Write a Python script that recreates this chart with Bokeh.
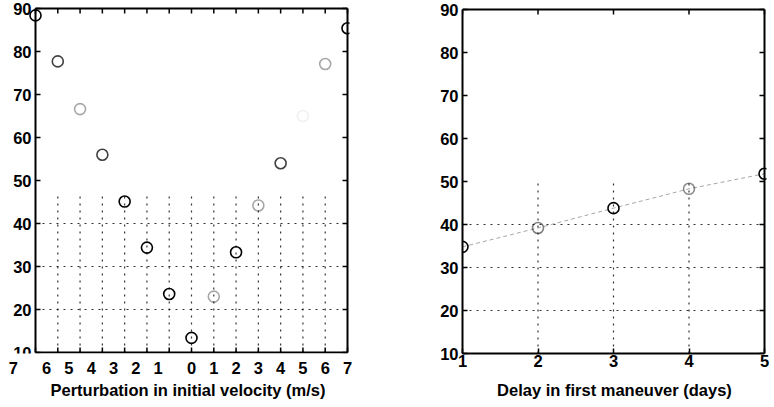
from bokeh.plotting import figure
from bokeh.models import Range1d, LinearAxis, FixedTicker, ColumnDataSource, Title
from bokeh.layouts import row
from bokeh.embed import file_html
from bokeh.resources import INLINE
from bokeh.core.properties import value

# ---------------- data ----------------
# Left panel: perturbation in initial velocity (m/s)
vel_x = [-7, -6, -5, -4, -3, -2, -1, 0, 1, 2, 3, 4, 5, 6, 7]
vel_y = [88.4, 77.7, 66.6, 56.0, 45.1, 34.4, 23.6, 13.4, 23.0, 33.3, 44.2, 54.0, 65.0, 77.1, 85.4]
vel_ticks = [-7, -6, -5, -4, -3, -2, -1, 0, 1, 2, 3, 4, 5, 6, 7]
vel_tick_labels = ["7", "6", "5", "4", "3", "2", "1", "0", "1", "2", "3", "4", "5", "6", "7"]

# Right panel: delay in first maneuver (days)
delay_x = [1, 2, 3, 4, 5]
delay_y = [34.8, 39.2, 43.8, 48.3, 51.8]
delay_ticks = [1, 2, 3, 4, 5]
delay_tick_labels = ["1", "2", "3", "4", "5"]

y_ticks = [10, 20, 30, 40, 50, 60, 70, 80, 90]
y_tick_labels = ["10", "20", "30", "40", "50", "60", "70", "80", "90"]

# ---------------- style ----------------
FONT = "Liberation Sans"
TICK_SIZE = "16.5px"
TITLE_SIZE = "16.5px"
HEIGHT = 405
BOTTOM_BORDER = 52
TICK_PX = 5
faint_left = {-5: 0.35, 1: 0.35, 3: 0.35, 5: 0.06, 6: 0.35, -6: 0.75, -4: 0.75, 4: 0.75}
faint_right = {2: 0.5, 4: 0.45}
DOT = dict(line_color="black", line_dash="2 5", line_width=1.2, line_alpha=0.8)
CIRCLE = dict(marker="circle", size=11, fill_color=None, line_color="black", line_width=1.6)
hy = [20, 30, 40]
ymin, ymax = y_ticks[0], y_ticks[-1]


def style_axis(ax):
    ax.axis_line_width = 2
    ax.axis_line_color = "black"
    ax.major_tick_in = 5
    ax.major_tick_out = 0
    ax.major_tick_line_width = 1.5
    ax.minor_tick_line_color = None
    ax.major_label_text_font = FONT
    ax.major_label_text_font_size = TICK_SIZE
    ax.major_label_text_font_style = "bold"
    ax.major_label_text_color = "black"
    ax.axis_label_text_font = FONT
    ax.axis_label_text_font_size = TITLE_SIZE
    ax.axis_label_text_font_style = "bold"
    ax.axis_label_text_color = "black"
    ax.axis_label_standoff = 8
    ax.major_label_standoff = 2


def base_figure(width, x_range, y_range, border_left, border_right):
    p = figure(width=width, height=HEIGHT, output_backend="svg", toolbar_location=None,
               title=None, x_range=x_range, y_range=y_range,
               min_border_left=border_left, min_border_right=border_right,
               min_border_top=0, min_border_bottom=BOTTOM_BORDER)
    p.xaxis.visible = False
    p.yaxis.visible = False
    p.grid.visible = False
    p.outline_line_color = None
    p.background_fill_color = "white"
    p.border_fill_color = "white"
    return p


def box_ticks(p, xticks, xmin, xmax, pxx, pxy, sides):
    """Box edges and inward ticks drawn from the tick lists."""
    tx, ty = TICK_PX / pxx, TICK_PX / pxy
    n, m = len(xticks), len(y_ticks)
    if "top" in sides:
        p.segment(x0=[xmin], y0=[ymax], x1=[xmax], y1=[ymax], line_color="black", line_width=2)
        p.segment(x0=xticks, y0=[ymax] * n, x1=xticks, y1=[ymax - ty] * n, line_color="black", line_width=1.5)
    if "right" in sides:
        p.segment(x0=[xmax], y0=[ymin], x1=[xmax], y1=[ymax], line_color="black", line_width=2)
        p.segment(x0=[xmax] * m, y0=y_ticks, x1=[xmax - tx] * m, y1=y_ticks, line_color="black", line_width=1.5)
    if "bottom" in sides:
        p.segment(x0=[xmin], y0=[ymin], x1=[xmax], y1=[ymin], line_color="black", line_width=2)
        p.segment(x0=xticks, y0=[ymin] * n, x1=xticks, y1=[ymin + ty] * n, line_color="black", line_width=1.5)
    if "left" in sides:
        p.segment(x0=[xmin], y0=[ymin], x1=[xmin], y1=[ymax], line_color="black", line_width=2)
        p.segment(x0=[xmin] * m, y0=y_ticks, x1=[xmin + tx] * m, y1=y_ticks, line_color="black", line_width=1.5)


# ======== left panel: box drawn by hand so the edge label "7" can sit left of the box ========
L_WIDTH = 420
BOX_LEFT_PX = 35          # room left of the box (y labels, outer "7")
BOX_W_PX = 312
BOX_RIGHT_PAD_PX = 2
BOX_TOP_PX = 8
NEG_LABEL_SHIFT = 0.5     # negative-side labels sit left of their ticks (lost minus signs)
EDGE_LABEL_SHIFT = 1.0

frame_h = HEIGHT - BOTTOM_BORDER
xmin, xmax = vel_ticks[0], vel_ticks[-1]
pxx = BOX_W_PX / (xmax - xmin)
pxy = (frame_h - BOX_TOP_PX - 1) / (ymax - ymin)
frame_w = BOX_LEFT_PX + BOX_W_PX + BOX_RIGHT_PAD_PX

left_p = base_figure(L_WIDTH,
                     Range1d(xmin - BOX_LEFT_PX / pxx, xmax + BOX_RIGHT_PAD_PX / pxx),
                     Range1d(ymin - 1 / pxy, ymax + BOX_TOP_PX / pxy),
                     0, L_WIDTH - frame_w)

# bottom axis carries only the tick labels, at their printed positions
vel_label_pos = [t - (EDGE_LABEL_SHIFT if t == xmin else NEG_LABEL_SHIFT) if t < 0 else t
                 for t in vel_ticks]
lb = LinearAxis(ticker=FixedTicker(ticks=vel_label_pos))
lb.major_label_overrides = {pos: lab for pos, lab in zip(vel_label_pos, vel_tick_labels)}
style_axis(lb)
lb.axis_line_color = None
lb.major_tick_line_color = None
lb.major_label_standoff = 8
left_p.add_layout(lb, "below")
left_p.add_layout(Title(text="Perturbation in initial velocity (m/s)", align="left", offset=50,
                        text_font=FONT, text_font_size=TITLE_SIZE, text_font_style="bold",
                        text_color="black", standoff=5), "below")

box_ticks(left_p, vel_ticks, xmin, xmax, pxx, pxy, ("top", "right", "bottom", "left"))
left_p.text(x=[xmin] * len(y_ticks), y=y_ticks, text=y_tick_labels, x_offset=-4,
            text_align="right", text_baseline="middle", text_font=value(FONT),
            text_font_size=value(TICK_SIZE), text_font_style="bold", text_color="black")
# dotted grid (only the lower part survived in the original)
inner_x = [t for t in vel_ticks if xmin < t < xmax]
left_p.segment(x0=inner_x, y0=[ymin] * len(inner_x), x1=inner_x, y1=[47] * len(inner_x), **DOT)
left_p.segment(x0=[xmin] * len(hy), y0=hy, x1=[xmax] * len(hy), y1=hy, **DOT)
lsrc = ColumnDataSource(dict(x=vel_x, y=vel_y, a=[faint_left.get(x, 1.0) for x in vel_x]))
left_p.scatter("x", "y", source=lsrc, line_alpha="a", **CIRCLE)


# ======== right panel ========
R_WIDTH = 354
R_BORDER_LEFT = 42
R_BORDER_RIGHT = 8
R_RIGHT_PAD_PX = 2
R_TOP_PX = 9
rxmin, rxmax = delay_ticks[0], delay_ticks[-1]
r_frame_w = R_WIDTH - R_BORDER_LEFT - R_BORDER_RIGHT
rpxx = (r_frame_w - R_RIGHT_PAD_PX) / (rxmax - rxmin)
rpxy = (frame_h - R_TOP_PX) / (ymax - ymin)

right_p = base_figure(R_WIDTH,
                      Range1d(rxmin, rxmax + R_RIGHT_PAD_PX / rpxx),
                      Range1d(ymin, ymax + R_TOP_PX / rpxy),
                      R_BORDER_LEFT, R_BORDER_RIGHT)

rb = LinearAxis(ticker=FixedTicker(ticks=delay_ticks), axis_label="Delay in first maneuver (days)",
                bounds=(rxmin, rxmax))
rb.major_label_overrides = {t: lab for t, lab in zip(delay_ticks, delay_tick_labels)}
rl = LinearAxis(ticker=FixedTicker(ticks=y_ticks), bounds=(ymin, ymax))
rl.major_label_overrides = {t: lab for t, lab in zip(y_ticks, y_tick_labels)}
style_axis(rb)
style_axis(rl)
rb.major_label_standoff = 1
rb.axis_label_standoff = 11
rl.major_label_standoff = 4
right_p.add_layout(rb, "below")
right_p.add_layout(rl, "left")

box_ticks(right_p, delay_ticks, rxmin, rxmax, rpxx, rpxy, ("top", "right"))
r_inner = [t for t in delay_ticks if rxmin < t < rxmax]
right_p.segment(x0=r_inner, y0=[ymin] * len(r_inner), x1=r_inner, y1=[50] * len(r_inner), **DOT)
right_p.segment(x0=[rxmin] * len(hy), y0=hy, x1=[rxmax] * len(hy), y1=hy, **DOT)
right_p.line(delay_x, delay_y, line_color="black", line_dash="4 3", line_width=1, line_alpha=0.35)
rsrc = ColumnDataSource(dict(x=delay_x, y=delay_y, a=[faint_right.get(x, 1.0) for x in delay_x]))
right_p.scatter("x", "y", source=rsrc, line_alpha="a", **CIRCLE)

layout = row(left_p, right_p)
open("out.html", "w").write(file_html(layout, INLINE))
